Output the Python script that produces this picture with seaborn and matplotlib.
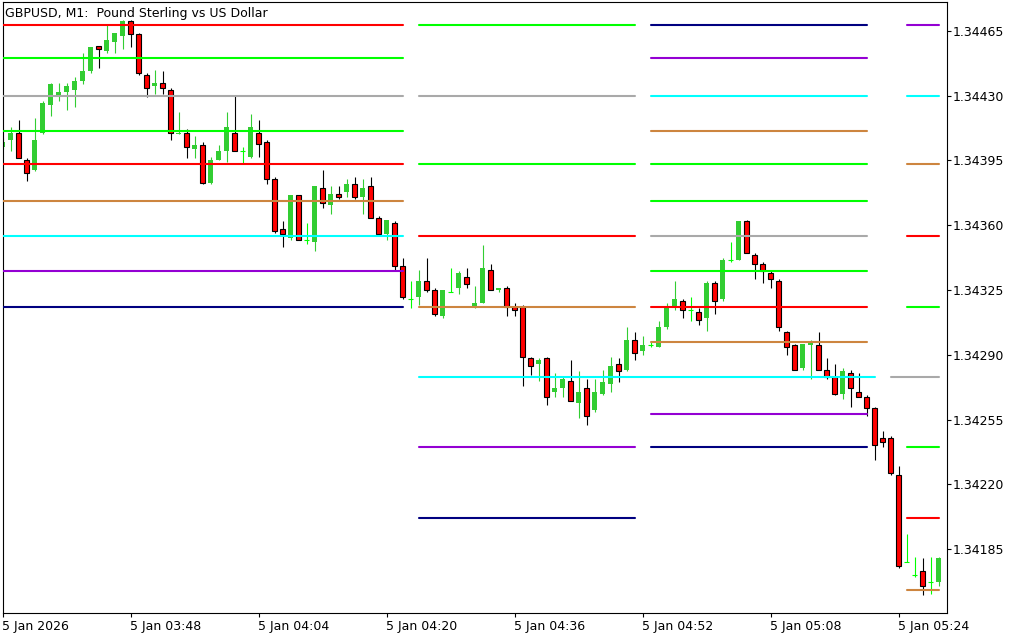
import numpy as np
import pandas as pd
import matplotlib
matplotlib.use("Agg")
import matplotlib.pyplot as plt
import seaborn as sns


# GBPUSD M1 candles, 03:32 .. 05:29
start_time = "2026-01-05 03:32"
opens = [1.34402, 1.34406, 1.34410, 1.34395, 1.34390, 1.34410, 1.34425, 1.34430, 1.34432, 1.34433,
         1.34438, 1.34443, 1.34457, 1.34454, 1.34459, 1.34462, 1.34470, 1.34463, 1.34441, 1.34435,
         1.34437, 1.34433, 1.34409, 1.34410, 1.34401, 1.34403, 1.34383, 1.34395, 1.34400, 1.34410,
         1.34400, 1.34397, 1.34410, 1.34405, 1.34385, 1.34358, 1.34353, 1.34376, 1.34352, 1.34351,
         1.34380, 1.34371, 1.34377, 1.34378, 1.34382, 1.34375, 1.34381, 1.34364, 1.34355, 1.34361,
         1.34338, 1.34320, 1.34321, 1.34330, 1.34325, 1.34311, 1.34324, 1.34326, 1.34332, 1.34316,
         1.34318, 1.34336, 1.34325, 1.34326, 1.34316, 1.34316, 1.34288, 1.34285, 1.34288, 1.34270,
         1.34272, 1.34276, 1.34264, 1.34272, 1.34260, 1.34269, 1.34274, 1.34285, 1.34282, 1.34298,
         1.34292, 1.34295, 1.34294, 1.34305, 1.34315, 1.34319, 1.34314, 1.34313, 1.34310, 1.34329,
         1.34320, 1.34341, 1.34341, 1.34362, 1.34344, 1.34339, 1.34334, 1.34330, 1.34302, 1.34295,
         1.34283, 1.34295, 1.34295, 1.34282, 1.34278, 1.34269, 1.34280, 1.34270, 1.34267, 1.34261,
         1.34245, 1.34245, 1.34225, 1.34178, 1.34171, 1.34173, 1.34167, 1.34167]
highs = [1.34407, 1.34413, 1.34417, 1.34396, 1.34418, 1.34427, 1.34437, 1.34437, 1.34437, 1.34440,
         1.34453, 1.34456, 1.34457, 1.34468, 1.34464, 1.34471, 1.34471, 1.34464, 1.34442, 1.34444,
         1.34443, 1.34434, 1.34421, 1.34412, 1.34408, 1.34405, 1.34397, 1.34403, 1.34421, 1.34430,
         1.34402, 1.34420, 1.34417, 1.34406, 1.34386, 1.34362, 1.34376, 1.34376, 1.34361, 1.34381,
         1.34390, 1.34381, 1.34381, 1.34385, 1.34386, 1.34385, 1.34386, 1.34365, 1.34363, 1.34362,
         1.34342, 1.34330, 1.34336, 1.34342, 1.34326, 1.34325, 1.34337, 1.34335, 1.34337, 1.34327,
         1.34349, 1.34339, 1.34326, 1.34327, 1.34318, 1.34317, 1.34289, 1.34288, 1.34289, 1.34280,
         1.34278, 1.34287, 1.34281, 1.34277, 1.34277, 1.34282, 1.34289, 1.34288, 1.34305, 1.34302,
         1.34300, 1.34297, 1.34308, 1.34318, 1.34330, 1.34320, 1.34321, 1.34315, 1.34330, 1.34330,
         1.34342, 1.34351, 1.34362, 1.34363, 1.34345, 1.34340, 1.34335, 1.34331, 1.34303, 1.34296,
         1.34296, 1.34298, 1.34302, 1.34288, 1.34285, 1.34283, 1.34282, 1.34280, 1.34268, 1.34262,
         1.34249, 1.34246, 1.34230, 1.34193, 1.34181, 1.34180, 1.34181, 1.34181]
lows = [1.34401, 1.34400, 1.34396, 1.34384, 1.34389, 1.34409, 1.34419, 1.34427, 1.34422, 1.34424,
        1.34436, 1.34442, 1.34445, 1.34453, 1.34453, 1.34455, 1.34456, 1.34441, 1.34429, 1.34431,
        1.34431, 1.34406, 1.34409, 1.34396, 1.34396, 1.34382, 1.34382, 1.34395, 1.34394, 1.34400,
        1.34393, 1.34396, 1.34397, 1.34382, 1.34356, 1.34348, 1.34352, 1.34352, 1.34350, 1.34346,
        1.34369, 1.34366, 1.34374, 1.34375, 1.34374, 1.34366, 1.34364, 1.34354, 1.34352, 1.34336,
        1.34320, 1.34315, 1.34317, 1.34324, 1.34311, 1.34310, 1.34324, 1.34323, 1.34326, 1.34315,
        1.34318, 1.34325, 1.34324, 1.34311, 1.34311, 1.34273, 1.34279, 1.34276, 1.34263, 1.34267,
        1.34267, 1.34265, 1.34256, 1.34252, 1.34259, 1.34268, 1.34270, 1.34275, 1.34281, 1.34287,
        1.34290, 1.34294, 1.34294, 1.34304, 1.34314, 1.34310, 1.34308, 1.34306, 1.34303, 1.34312,
        1.34319, 1.34340, 1.34341, 1.34345, 1.34331, 1.34329, 1.34326, 1.34303, 1.34290, 1.34282,
        1.34282, 1.34277, 1.34282, 1.34277, 1.34268, 1.34266, 1.34262, 1.34267, 1.34257, 1.34233,
        1.34240, 1.34225, 1.34175, 1.34178, 1.34170, 1.34160, 1.34161, 1.34165]
closes = [1.34405, 1.34410, 1.34396, 1.34388, 1.34406, 1.34426, 1.34436, 1.34432, 1.34435, 1.34438,
          1.34443, 1.34456, 1.34455, 1.34460, 1.34464, 1.34470, 1.34463, 1.34442, 1.34434, 1.34437,
          1.34434, 1.34410, 1.34410, 1.34402, 1.34403, 1.34383, 1.34395, 1.34400, 1.34413, 1.34400,
          1.34400, 1.34413, 1.34404, 1.34385, 1.34357, 1.34355, 1.34376, 1.34352, 1.34352, 1.34381,
          1.34372, 1.34377, 1.34375, 1.34382, 1.34375, 1.34380, 1.34364, 1.34355, 1.34363, 1.34338,
          1.34321, 1.34320, 1.34330, 1.34325, 1.34312, 1.34325, 1.34324, 1.34334, 1.34328, 1.34318,
          1.34337, 1.34325, 1.34326, 1.34316, 1.34314, 1.34289, 1.34284, 1.34287, 1.34267, 1.34272,
          1.34277, 1.34265, 1.34270, 1.34257, 1.34270, 1.34275, 1.34284, 1.34281, 1.34298, 1.34291,
          1.34295, 1.34295, 1.34305, 1.34315, 1.34320, 1.34314, 1.34314, 1.34309, 1.34329, 1.34319,
          1.34341, 1.34341, 1.34362, 1.34345, 1.34339, 1.34335, 1.34331, 1.34305, 1.34294, 1.34282,
          1.34296, 1.34297, 1.34282, 1.34278, 1.34269, 1.34281, 1.34272, 1.34267, 1.34261, 1.34241,
          1.34243, 1.34226, 1.34176, 1.34178, 1.34171, 1.34165, 1.34167, 1.34180]

# level segments drawn over the candles
level_kind = ["red", "lime", "gray", "lime", "red", "peru", "cyan", "violet", "navy",
              "lime", "gray", "lime", "red", "peru", "cyan", "violet", "navy",
              "navy", "violet", "cyan", "peru", "lime", "lime", "gray", "lime", "red", "peru", "violet", "navy",
              "violet", "cyan", "peru", "red", "lime", "gray", "lime", "red", "peru"]
level_price = [1.34468, 1.34450, 1.34430, 1.34411, 1.34393, 1.34373, 1.34354, 1.34335, 1.34316,
               1.34468, 1.34430, 1.34393, 1.34354, 1.34316, 1.34278, 1.34240, 1.34202,
               1.34468, 1.34450, 1.34430, 1.34411, 1.34393, 1.34373, 1.34354, 1.34335, 1.34316, 1.34297, 1.34258, 1.34240,
               1.34468, 1.34430, 1.34393, 1.34354, 1.34316, 1.34278, 1.34240, 1.34202, 1.34163]
level_from = ["03:32"] * 9 + ["04:24"] * 8 + ["04:53"] * 12 + ["05:25"] * 5 + ["05:23"] + ["05:25"] * 3
level_to = (["04:22"] * 9 + ["04:51"] * 5 + ["05:21"] + ["04:51"] * 2
            + ["05:20"] * 12 + ["05:29"] * 9)

x_labels = ["5 Jan 2026", "5 Jan 03:48", "5 Jan 04:04", "5 Jan 04:20",
            "5 Jan 04:36", "5 Jan 04:52", "5 Jan 05:08", "5 Jan 05:24"]
y_ticks = [1.34185, 1.34220, 1.34255, 1.34290, 1.34325, 1.34360, 1.34395, 1.34430, 1.34465]

palette = {"red": "#FF0000", "lime": "#00FF00", "gray": "#A9A9A9", "peru": "#CD853F",
           "cyan": "#00FFFF", "violet": "#9400D3", "navy": "#000080"}

t0 = pd.Timestamp(start_time)
def bar_of(hhmm):
    return int((pd.Timestamp("2026-01-05 " + hhmm) - t0).total_seconds() // 60)

df = pd.DataFrame({"o": opens, "h": highs, "l": lows, "c": closes})
df["i"] = np.arange(len(df))
up = df[df.c > df.o]
dn = df[df.c < df.o]
dj = df[df.c == df.o]

lv = pd.DataFrame({"kind": level_kind, "price": level_price,
                   "x0": [bar_of(t) for t in level_from], "x1": [bar_of(t) for t in level_to]})
lv["line"] = np.arange(len(lv))
lv_long = pd.concat([lv.assign(x=lv.x0), lv.assign(x=lv.x1)])

sns.set_theme(style="white")
plt.rcParams["font.family"] = ["DejaVu Sans"]

fig = plt.figure(figsize=(10.24, 6.4), dpi=100)
ax = fig.add_axes([2.5 / 1024, 27 / 640, 944 / 1024, 611 / 640])

# wicks
ax.vlines(up.i, up.l, up.h, color="#32CD32", lw=0.8, zorder=2)
ax.vlines(dn.i, dn.l, dn.h, color="black", lw=0.8, zorder=2)
ax.vlines(dj.i, dj.l, dj.h, color="#00FF00", lw=0.8, zorder=2)
ax.hlines(dj.o, dj.i - 0.3, dj.i + 0.3, color="#00FF00", lw=0.8, zorder=2)
# bodies
ax.bar(up.i, up.c - up.o, bottom=up.o, width=0.6, color="#32CD32", lw=0, zorder=2)
ax.bar(dn.i, dn.o - dn.c, bottom=dn.c, width=0.6, color="#FF0000", edgecolor="black", lw=0.8, zorder=2)

sns.lineplot(data=lv_long, x="x", y="price", hue="kind", units="line", estimator=None,
             palette=palette, legend=False, lw=1.5, ax=ax, zorder=3)

ax.set_xlim(0, 118)
ax.set_ylim(1.341505, 1.344805)
ax.set_xlabel("")
ax.set_ylabel("")

ax.set_xticks(np.arange(0, 113, 16))
ax.set_xticklabels(x_labels)
for lab in ax.get_xticklabels():
    lab.set_ha("left")
ax.yaxis.tick_right()
ax.set_yticks(y_ticks)
ax.set_yticklabels(["%.5f" % v for v in y_ticks])
ax.tick_params(axis="both", direction="out", length=3, width=0.8, color="black",
               labelsize=9, labelcolor="black", pad=1.5)
ax.tick_params(axis="x", bottom=True, pad=2)
ax.tick_params(axis="y", right=True, left=False)
for s in ax.spines.values():
    s.set_visible(True)
    s.set_color("black")
    s.set_linewidth(0.8)

ax.text(0.0027, 0.992, "GBPUSD, M1:  Pound Sterling vs US Dollar", transform=ax.transAxes,
        ha="left", va="top", fontsize=9, color="black", zorder=5)

fig.savefig("out.png", dpi=100)
